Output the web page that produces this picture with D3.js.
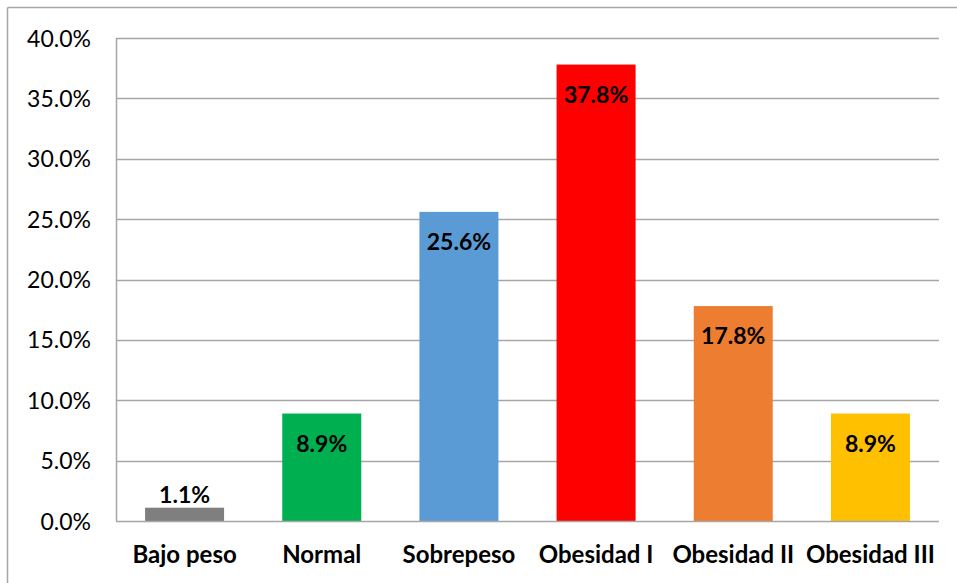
<!DOCTYPE html>
<html><head><meta charset="utf-8">
<script src="https://cdn.jsdelivr.net/npm/d3@7"></script>
<style>
html,body{margin:0;padding:0;background:#fff;}
svg{display:block;}
</style></head>
<body>
<svg id="chart" width="957" height="583"></svg>
<script>
const categories = ["Bajo peso","Normal","Sobrepeso","Obesidad I","Obesidad II","Obesidad III"];
const values = [1.1, 8.9, 25.6, 37.8, 17.8, 8.9];
const colors = ["#7f7f7f","#00b050","#5b9bd5","#ff0000","#ed7d31","#ffc000"];
const yTicks = [0,5,10,15,20,25,30,35,40];

const svg = d3.select("#chart");
const W = 957, H = 583;
const margin = {left:116, right:18, top:38, bottom:62};
const font = "Lato, 'Open Sans', sans-serif";

// outer border (top & left visible)
svg.append("line").attr("x1",7.5).attr("x2",W).attr("y1",7.5).attr("y2",7.5).attr("stroke","#a6a6a6").attr("stroke-width",1.5);
svg.append("line").attr("x1",7.5).attr("x2",7.5).attr("y1",7.5).attr("y2",H).attr("stroke","#a6a6a6").attr("stroke-width",1.5);

const x = d3.scaleBand().domain(categories).range([margin.left, W - margin.right]).paddingInner(0.424).paddingOuter(0.212);
const y = d3.scaleLinear().domain([0,40]).range([H - margin.bottom, margin.top]);

// gridlines
svg.append("g").selectAll("line").data(yTicks.filter(d=>d>0)).join("line")
  .attr("x1", margin.left).attr("x2", W - margin.right)
  .attr("y1", d=>Math.round(y(d))+0.5).attr("y2", d=>Math.round(y(d))+0.5)
  .attr("stroke","#a6a6a6").attr("stroke-width",1.5);

// y axis
const yAxis = d3.axisLeft(y).tickValues(yTicks).tickFormat(d=>d.toFixed(1)+"%").tickSize(0).tickPadding(25);
const gy = svg.append("g").attr("transform",`translate(${margin.left},0)`).call(yAxis);
gy.select(".domain").remove();
gy.selectAll("text").attr("font-family",font).attr("font-size",23).attr("fill","#000").attr("dy","0.35em");

// bars
svg.append("g").selectAll("rect").data(values).join("rect")
  .attr("x",(d,i)=>x(categories[i]))
  .attr("width",x.bandwidth())
  .attr("y",d=>y(d))
  .attr("height",d=>y(0)-y(d))
  .attr("fill",(d,i)=>colors[i]);

// axis lines
svg.append("line").attr("x1",margin.left+0.5).attr("x2",margin.left+0.5).attr("y1",y(40)).attr("y2",y(0)).attr("stroke","#a6a6a6").attr("stroke-width",1.5);
svg.append("line").attr("x1",margin.left).attr("x2",W-margin.right).attr("y1",Math.round(y(0))+0.5).attr("y2",Math.round(y(0))+0.5).attr("stroke","#a6a6a6").attr("stroke-width",1.5);

// x axis labels
const xAxis = d3.axisBottom(x).tickSize(0).tickPadding(0);
const gx = svg.append("g").attr("transform",`translate(0,${H})`).call(xAxis);
gx.select(".domain").remove();
gx.selectAll("text").attr("font-family",font).attr("font-size",24).attr("font-weight","bold").attr("fill","#000")
  .attr("y",-20).attr("dy",0);

// data labels
svg.append("g").selectAll("text").data(values).join("text")
  .attr("x",(d,i)=>x(categories[i])+x.bandwidth()/2)
  .attr("y",d=> d < 5 ? y(d)-5 : y(d)+38)
  .attr("text-anchor","middle")
  .attr("font-family",font).attr("font-size",23).attr("font-weight","bold").attr("fill","#000")
  .text(d=>d.toFixed(1)+"%");
</script>
</body></html>
